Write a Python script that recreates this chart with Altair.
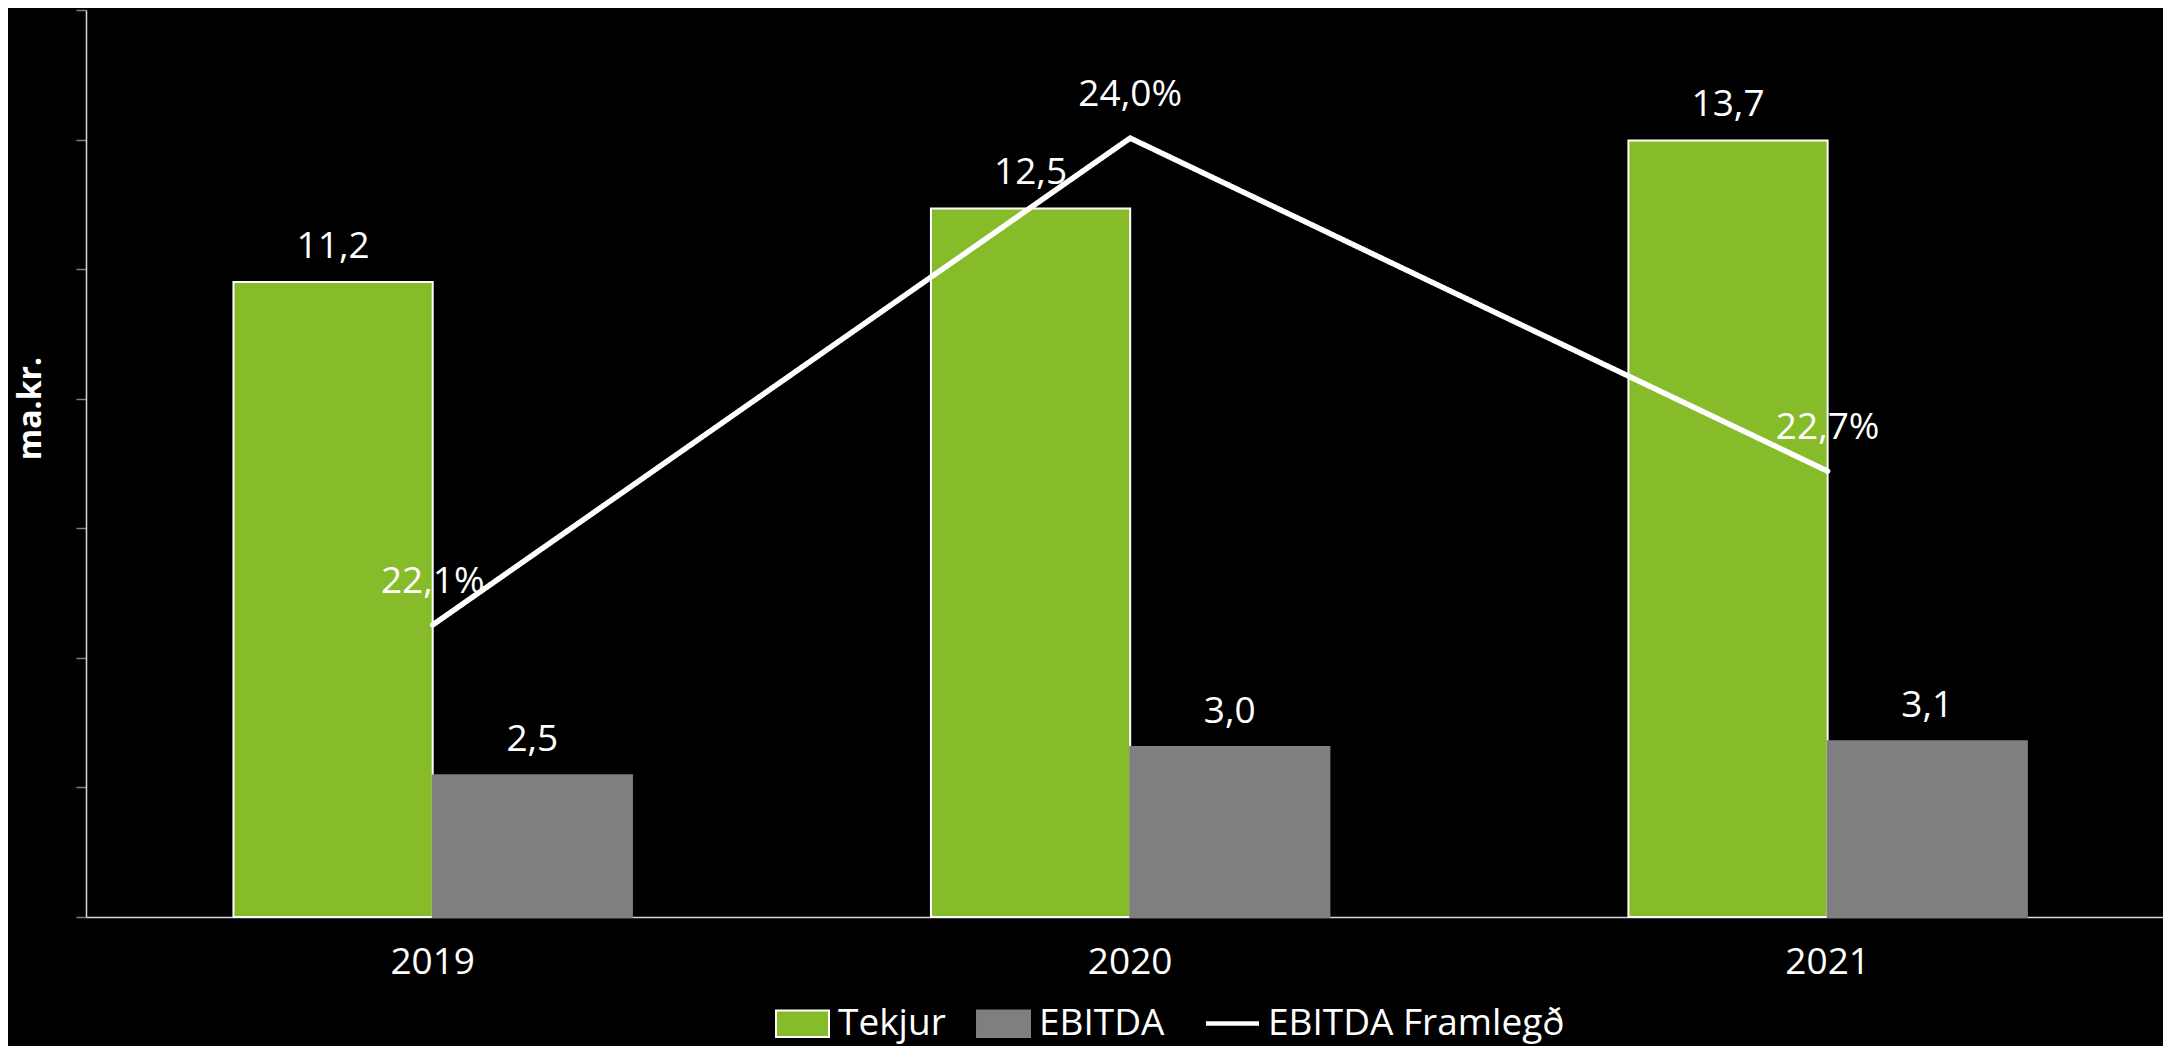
import altair as alt
import pandas as pd

years = ["2019", "2020", "2021"]
tekjur = [11.2, 12.5, 13.7]
ebitda = [2.5, 3.0, 3.1]
framlegd = [22.1, 24.0, 22.7]
series = ["Tekjur", "EBITDA", "EBITDA Framlegð"]
colors = ["#86BC29", "#7F7F7F", "#FFFFFF"]
y_max = 16
y_ticks = [y_max * k / 7 for k in range(8)]
pct_domain = [20.96, 24.5]

FONT = "Open Sans"
FS = 37


def fmt(v):
    return f"{v:.1f}".replace(".", ",")


bars_df = pd.DataFrame({
    "year": years * 2,
    "series": [series[0]] * 3 + [series[1]] * 3,
    "value": tekjur + ebitda,
})
bars_df["label"] = bars_df["value"].map(fmt)

line_df = pd.DataFrame({"year": years, "pct": framlegd, "series": [series[2]] * 3})
line_df["label"] = line_df["pct"].map(lambda v: fmt(v) + "%")

x_enc = alt.X(
    "year:N",
    sort=years,
    scale=alt.Scale(paddingInner=0.4287, paddingOuter=0.2033, align=0.52),
    axis=alt.Axis(
        title=None, labelAngle=0, labelColor="white", labelFontSize=FS,
        labelFont=FONT, ticks=False, domainColor="#D9D9D9", domainWidth=1.5,
        labelPadding=27,
    ),
)
xoff = alt.XOffset(
    "series:N", sort=series[:2],
    scale=alt.Scale(domain=series[:2], paddingInner=0, paddingOuter=0),
)
y_enc = alt.Y(
    "value:Q",
    scale=alt.Scale(domain=[0, y_max], nice=False, zero=True),
    axis=alt.Axis(
        title="ma.kr.", values=y_ticks, labels=False, tickSize=10,
        tickColor="#808080", tickWidth=1.5, domainColor="#D9D9D9", domainWidth=1.5,
        grid=False, titleColor="white", titleFont=FONT, titleFontSize=32,
        titleFontWeight="bold", titlePadding=28, titleY=398,
    ),
)

rect_path = "M-2,-1H2V1H-2Z"
line_path = "M-2,0H2"
SYM = 702  # sqrt = 26.5 -> path spans 53 x 26.5

bar_legend = alt.Legend(
    title=None, orient="none", legendX=698, legendY=995,
    direction="horizontal", labelColor="white", labelFontSize=FS,
    labelFont=FONT, symbolSize=SYM, symbolType=rect_path,
    labelOffset=17, columnPadding=27, symbolStrokeWidth=2,
    symbolOpacity=1, labelLimit=0,
)

bars = alt.Chart(bars_df).mark_bar(strokeWidth=2).encode(
    x=x_enc,
    xOffset=xoff,
    y=y_enc,
    color=alt.Color("series:N", sort=series[:2],
                    scale=alt.Scale(domain=series[:2], range=colors[:2]),
                    legend=bar_legend),
    stroke=alt.Stroke("series:N", sort=series[:2],
                      scale=alt.Scale(domain=series[:2], range=["#FFFFFF", colors[1]]),
                      legend=bar_legend),
)

bar_labels = alt.Chart(bars_df).mark_text(
    color="white", font=FONT, fontSize=FS, baseline="middle", align="center", dy=-35
).encode(
    x=x_enc, xOffset=xoff, y=alt.Y("value:Q"), text="label:N"
)

line = alt.Chart(line_df).mark_line(
    color="white", strokeWidth=5.5, strokeJoin="miter", strokeCap="round"
).encode(
    x=x_enc,
    y=alt.Y("pct:Q", scale=alt.Scale(domain=pct_domain, nice=False, zero=False), axis=None),
    strokeDash=alt.StrokeDash(
        "series:N",
        scale=alt.Scale(domain=[series[2]], range=[[1, 0]]),
        legend=alt.Legend(
            title=None, orient="none", legendX=1128, legendY=995,
            labelColor="white", labelFontSize=FS, labelFont=FONT,
            symbolType=line_path, symbolSize=SYM, symbolStrokeColor="white",
            symbolFillColor="transparent", symbolDash=[1, 0],
            symbolStrokeWidth=4.5, labelOffset=17, labelLimit=0,
        ),
    ),
)

line_labels = alt.Chart(line_df).mark_text(
    color="white", font=FONT, fontSize=FS, baseline="middle", align="center", dy=-43
).encode(
    x=x_enc, y=alt.Y("pct:Q"), text="label:N"
)

chart = alt.layer(
    alt.layer(bars, bar_labels),
    alt.layer(line, line_labels),
).resolve_scale(y="independent").properties(
    width=2077, height=907, background="black",
    autosize=alt.AutoSizeParams(type="none"),
    padding={"left": 78, "top": 2, "right": 0, "bottom": 129},
).configure_view(stroke=None)

chart.save("out.html", embed_options={"renderer": "svg", "actions": False})
